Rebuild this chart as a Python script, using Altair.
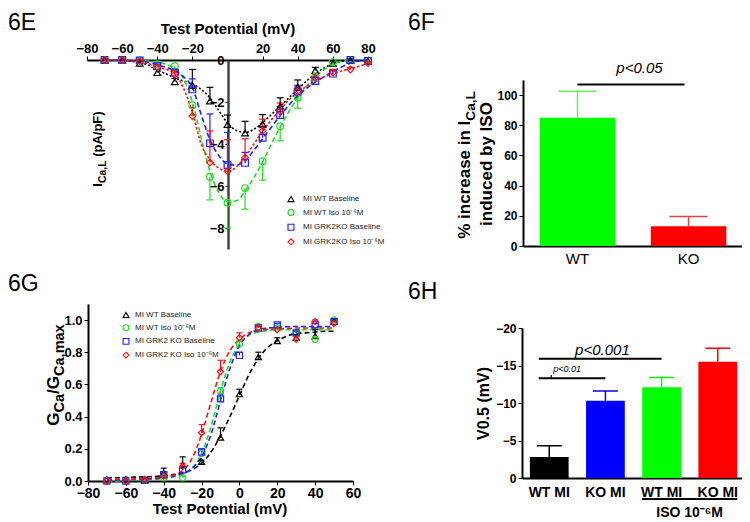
import altair as alt
import pandas as pd

FONT = "Liberation Sans"
W, H = 734, 514

# ---------------- Panel 6E : current-voltage relation ----------------
e_series = ["MI WT Baseline", "MI WT Iso 10⁻⁶M", "MI GRK2KO Baseline", "MI GRK2KO Iso 10⁻⁶M"]
e_colors = ["#000000", "#22dd22", "#2020ff", "#ff1010"]
e_shapes = ["triangle-up", "circle", "square", "diamond"]
e_dashes = [[2, 2], [5, 3], [5, 3], [2.5, 2]]
e_err_dir = [1, -1, 1, 1]

e_v = [-70, -60, -50, -40, -30, -20, -10, 0, 10, 20, 30, 40, 50, 60, 70, 80]
e_wt_base = [0, 0, -0.15, -0.6, -1.03, -1.2, -1.95, -3.07, -3.47, -3.05, -2.2, -1.3, -0.5, -0.15, 0, -0.05]
e_wt_iso = [0, 0, -0.02, -0.2, -0.3, -2.15, -5.56, -6.8, -6.1, -4.82, -3.15, -1.8, -0.8, -0.1, 0, -0.05]
e_ko_base = [0, 0, -0.02, -0.3, -0.6, -1.4, -3.97, -5.0, -4.9, -3.7, -2.62, -1.5, -1.0, -0.65, 0, -0.05]
e_ko_iso = [0, 0, -0.05, -0.35, -0.7, -2.67, -4.88, -5.3, -4.65, -3.37, -2.45, -1.5, -0.85, -0.6, -0.45, -0.15]

e_wt_base_err = [0, 0, 0.05, 0.15, 0.15, 0.75, 0.65, 0.45, 0.55, 0.45, 0.4, 0.35, 0.15, 0.1, 0.05, 0]
e_wt_iso_err = [0, 0, 0.02, 0.05, 0.1, 0.5, 1.1, 1.2, 1.0, 0.9, 0.7, 0.5, 0.2, 0.1, 0, 0]
e_ko_base_err = [0, 0, 0.05, 0.1, 0.15, 0.5, 1.4, 1.55, 0.5, 0.5, 0.4, 0.3, 0.2, 0.15, 0.05, 0]
e_ko_iso_err = [0, 0, 0.05, 0.1, 0.2, 0.4, 1.5, 1.5, 0.9, 0.55, 0.4, 0.25, 0.2, 0.15, 0.1, 0.05]

# fitted curves every 5 mV
e_fit_v = list(range(-70, 85, 5))
e_fit_wt_base = [0, 0, -0.02, -0.06, -0.12, -0.25, -0.48, -0.65, -0.85, -1.0, -1.15, -1.4, -1.8, -2.4,
                 -3.0, -3.35, -3.45, -3.3, -2.98, -2.6, -2.2, -1.8, -1.4, -1.0, -0.65, -0.38, -0.18,
                 -0.06, 0, None, None]
e_fit_wt_iso = [0, 0, 0, 0, -0.02, -0.05, -0.1, -0.2, -0.4, -0.9, -2.0, -3.7, -5.3, -6.3, -6.75,
                -6.7, -6.25, -5.6, -4.85, -4.0, -3.2, -2.45, -1.8, -1.25, -0.8, -0.45, -0.2, -0.06,
                0, None, None]
e_fit_ko_base = [0, 0, 0, -0.02, -0.05, -0.12, -0.22, -0.35, -0.5, -0.8, -1.3, -2.6, -3.8, -4.55,
                 -4.95, -5.0, -4.8, -4.3, -3.75, -3.2, -2.65, -2.15, -1.7, -1.35, -1.05, -0.8,
                 -0.55, -0.33, -0.15, -0.05, 0]
e_fit_ko_iso = [0, 0, 0, -0.03, -0.08, -0.18, -0.3, -0.45, -0.65, -1.35, -2.5, -4.0, -4.75, -5.15,
                -5.3, -5.1, -4.6, -4.0, -3.4, -2.85, -2.35, -1.9, -1.55, -1.25, -1.0, -0.8, -0.65,
                -0.52, -0.42, -0.3, -0.15]

# ---------------- Panel 6F : % increase ----------------
f_groups = ["WT", "KO"]
f_values = [85, 13]
f_err = [17.5, 6.5]
f_colors = ["#00ff00", "#ff0000"]
f_err_colors = ["#66ee66", "#dd4444"]

# ---------------- Panel 6G : activation curves ----------------
g_series = ["MI WT Baseline", "MI WT Iso 10⁻⁶M", "MI GRK2 KO Baseline", "MI GRK2 KO Iso 10⁻⁶M"]
g_colors = ["#000000", "#22dd22", "#2020ff", "#ff1010"]
g_v = [-70, -60, -50, -40, -30, -20, -10, 0, 10, 20, 30, 40, 50]
g_wt_base = [0.01, 0.01, 0.01, 0.05, 0.1, 0.12, 0.27, 0.54, 0.77, 0.87, 0.89, 0.9, 0.99]
g_wt_iso = [0, 0, 0.005, 0.02, 0.02, 0.17, 0.56, 0.85, 0.96, 0.95, 0.92, 0.88, 1.0]
g_ko_base = [0, 0, 0.005, 0.04, 0.07, 0.18, 0.51, 0.78, 0.95, 0.97, 0.92, 0.97, 0.99]
g_ko_iso = [0, 0, 0.01, 0.03, 0.09, 0.3, 0.68, 0.89, 0.95, 0.94, 0.88, 0.99, 0.98]
g_wt_base_err = [0, 0, 0.01, 0.03, 0.05, 0.01, 0.06, 0.03, 0.03, 0.02, 0.02, 0.04, 0.01]
g_wt_iso_err = [0, 0, 0, 0.01, 0.01, 0.02, 0.02, 0.02, 0.01, 0.01, 0.01, 0.01, 0.01]
g_ko_base_err = [0, 0, 0, 0.01, 0.02, 0.02, 0.03, 0.02, 0.01, 0.01, 0.01, 0.01, 0.01]
g_ko_iso_err = [0, 0, 0.01, 0.01, 0.02, 0.05, 0.07, 0.03, 0.01, 0.01, 0.02, 0.01, 0.01]

g_fit_v = list(range(-70, 55, 5))
g_fit_wt_base = [0.02, 0.02, 0.022, 0.024, 0.026, 0.028, 0.032, 0.04, 0.05, 0.07, 0.11, 0.18, 0.28,
                 0.4, 0.53, 0.66, 0.76, 0.83, 0.87, 0.9, 0.915, 0.92, 0.925, 0.93, 0.93]
g_fit_wt_iso = [0, 0, 0.003, 0.005, 0.007, 0.01, 0.015, 0.025, 0.04, 0.08, 0.17, 0.34, 0.56, 0.74,
                0.85, 0.905, 0.925, 0.935, 0.94, 0.94, 0.94, 0.94, 0.94, 0.94, 0.94]
g_fit_ko_base = [0.005, 0.006, 0.007, 0.009, 0.011, 0.015, 0.02, 0.03, 0.045, 0.08, 0.15, 0.29, 0.5,
                 0.7, 0.84, 0.91, 0.94, 0.95, 0.955, 0.958, 0.96, 0.96, 0.96, 0.96, 0.96]
g_fit_ko_iso = [0.01, 0.011, 0.012, 0.013, 0.015, 0.019, 0.025, 0.035, 0.065, 0.14, 0.29, 0.49, 0.68,
                0.81, 0.88, 0.92, 0.935, 0.942, 0.945, 0.947, 0.95, 0.95, 0.95, 0.95, 0.95]

# ---------------- Panel 6H : V0.5 ----------------
h_keys = ["WT MI|base", "KO MI|base", "WT MI|iso", "KO MI|iso"]
h_values = [-2.8, -10.3, -12.1, -15.5]
h_err = [1.5, 1.3, 1.3, 1.8]
h_colors = ["#000000", "#0000ff", "#00ff00", "#ff0000"]

# ---------------- helpers ----------------
BW = {' ': 278, '%': 889, '(': 333, ')': 333, ',': 278, '.': 278, '/': 278, '<': 584,
      'A': 722, 'C': 722, 'F': 611, 'G': 778, 'I': 278, 'L': 611, 'S': 667, 'O': 778, 'V': 667,
      'a': 556, 'b': 611, 'c': 556, 'd': 611, 'e': 556, 'i': 278, 'm': 889, 'n': 611, 'p': 611,
      'r': 389, 's': 556, 'u': 611, 'x': 556, 'y': 556}


def tw(t, size):
    return sum(BW.get(ch, 556) for ch in t) * size / 1000.0


def label(txt, x, y, size, weight="normal", style="normal", align="left", baseline="alphabetic", angle=0):
    return alt.Chart(pd.DataFrame({"t": [txt]})).mark_text(
        font=FONT, fontSize=size, fontWeight=weight, fontStyle=style, align=align,
        baseline=baseline, angle=angle, color="black"
    ).encode(text="t:N", x=alt.value(x), y=alt.value(y))


def rotated_title(segments, bx, cy):
    total = sum(tw(t, s) for t, s, _ in segments)
    y = cy + total / 2.0
    out = []
    for t, s, shift in segments:
        lead = len(t) - len(t.lstrip())
        out.append(label(t.strip(), bx + shift, y - tw(" " * lead, s), s, weight="bold", angle=270))
        y -= tw(t, s)
    return out


def axis(orient, offset, **kw):
    base = dict(orient=orient, offset=offset, title=None, grid=False, labelFont=FONT,
                labelColor="black", domainColor="black", tickColor="black", domainWidth=2,
                labelFontWeight="bold", labelFlush=False, labelOverlap=False)
    base.update(kw)
    return alt.Axis(**base)


def series_frames(series, xs, ys_list, errs_list, dirs, fit_x, fits):
    pts, fit_rows = [], []
    for s, ys, errs, d in zip(series, ys_list, errs_list, dirs):
        for v, y, er in zip(xs, ys, errs):
            pts.append({"s": s, "v": v, "i": y, "e": y + d * er, "has": er > 0})
    for s, f in zip(series, fits):
        for v, y in zip(fit_x, f):
            if y is not None:
                fit_rows.append({"s": s, "v": v, "i": y})
    return pd.DataFrame(pts), pd.DataFrame(fit_rows)


def series_panel(series, colors, shapes, dashes, df_pts, df_fit, xe, yscale, yaxis, legend, cap, size):
    def col(leg=None):
        return alt.Color("s:N", scale=alt.Scale(domain=series, range=colors), legend=leg)
    dferr = df_pts[df_pts["has"]]
    curves = alt.Chart(df_fit).mark_line(strokeWidth=1.6, interpolate="monotone").encode(
        x=xe, y=alt.Y("i:Q", scale=yscale, axis=yaxis), color=col(),
        strokeDash=alt.StrokeDash("s:N", scale=alt.Scale(domain=series, range=dashes), legend=None))
    bars = alt.Chart(dferr).mark_rule(strokeWidth=1.2).encode(
        x=xe, y=alt.Y("i:Q", scale=yscale, axis=yaxis), y2="e:Q", color=col())
    caps = alt.Chart(dferr).mark_rule(strokeWidth=1.2, xOffset=-cap, x2Offset=cap).encode(
        x=xe, x2="v:Q", y=alt.Y("e:Q", scale=yscale, axis=yaxis), color=col())
    points = alt.Chart(df_pts).mark_point(filled=False, size=size, strokeWidth=1.2, opacity=1).encode(
        x=xe, y=alt.Y("i:Q", scale=yscale, axis=yaxis),
        color=col(legend),
        shape=alt.Shape("s:N", scale=alt.Scale(domain=series, range=shapes), legend=legend))
    return alt.layer(curves, bars, caps, points).resolve_scale(
        color="independent", strokeDash="independent", shape="independent")


# ---------------- Panel E ----------------
dfe_pts, dfe_fit = series_frames(
    e_series, e_v, [e_wt_base, e_wt_iso, e_ko_base, e_ko_iso],
    [e_wt_base_err, e_wt_iso_err, e_ko_base_err, e_ko_iso_err], e_err_dir,
    e_fit_v, [e_fit_wt_base, e_fit_wt_iso, e_fit_ko_base, e_fit_ko_iso])
xe_E = alt.X("v:Q", scale=alt.Scale(domain=[-80, 80], range=[79, 360], nice=False, zero=False),
             axis=axis("top", -52, values=[-80, -60, -40, -20, 20, 40, 60, 80], labelFontSize=13,
                       tickSize=4, labelPadding=1))
ys_E = alt.Scale(domain=[-9, 0], range=[241, 52], nice=False, zero=False)
ya_E = axis("left", -220, values=[-8, -6, -4, -2, 0], labelFontSize=13, tickSize=3, labelPadding=1,
            domainWidth=2.5, domainColor="#444444")
leg_E = alt.Legend(orient="none", legendX=279, legendY=187, title=None, labelFont=FONT,
                   labelFontSize=8, labelColor="#222222", symbolSize=36, symbolStrokeWidth=1.1,
                   rowPadding=2.6, labelOffset=8, padding=0)
panel_E = series_panel(e_series, e_colors, e_shapes, e_dashes, dfe_pts, dfe_fit, xe_E, ys_E, ya_E,
                       leg_E, 3.5, 45)

# ---------------- Panel G ----------------
dfg_pts, dfg_fit = series_frames(
    g_series, g_v, [g_wt_base, g_wt_iso, g_ko_base, g_ko_iso],
    [g_wt_base_err, g_wt_iso_err, g_ko_base_err, g_ko_iso_err], [1, 1, 1, 1],
    g_fit_v, [g_fit_wt_base, g_fit_wt_iso, g_fit_ko_base, g_fit_ko_iso])
xe_G = alt.X("v:Q", scale=alt.Scale(domain=[-80, 60], range=[80, 345], nice=False, zero=False),
             axis=axis("bottom", 473 - H, values=list(range(-80, 61, 20)), labelFontSize=14,
                       tickSize=4, labelPadding=1))
ys_G = alt.Scale(domain=[0, 1.1], range=[473, 295.9], nice=False, zero=False)
ya_G = axis("left", -80, values=[0, 0.2, 0.4, 0.6, 0.8, 1.0], format=".1f", labelFontSize=13,
            tickSize=4, labelPadding=2)
leg_G = alt.Legend(orient="none", legendX=114, legendY=303, title=None, labelFont=FONT,
                   labelFontSize=8, labelColor="#222222", symbolSize=34, symbolStrokeWidth=1.1,
                   rowPadding=1.7, labelOffset=5, padding=0)
panel_G = series_panel(g_series, g_colors, e_shapes, [[5, 3]] * 4, dfg_pts, dfg_fit, xe_G, ys_G, ya_G,
                       leg_G, 3, 38)

# ---------------- Panel F ----------------
dff = pd.DataFrame({"g": f_groups, "val": f_values,
                    "top": [v + e for v, e in zip(f_values, f_err)]})
xs_F = alt.Scale(domain=f_groups, range=[515, 735], paddingInner=0.32, paddingOuter=0.15)
xa_F = axis("bottom", 238 - H, labelFontSize=15, labelFontWeight="normal", tickSize=0,
            labelPadding=5, labelAngle=0)
ys_F = alt.Scale(domain=[0, 110], range=[238, 71.9], nice=False, zero=False)
ya_F = axis("left", -515, values=[0, 20, 40, 60, 80, 100], labelFontSize=12, tickSize=4, labelPadding=2)
xF = alt.X("g:N", scale=xs_F, axis=xa_F)
f_bars = alt.Chart(dff).mark_bar().encode(
    x=xF, y=alt.Y("val:Q", scale=ys_F, axis=ya_F),
    color=alt.Color("g:N", scale=alt.Scale(domain=f_groups, range=f_colors), legend=None))
ecF = alt.Color("g:N", scale=alt.Scale(domain=f_groups, range=f_err_colors), legend=None)
f_err_l = alt.Chart(dff).mark_rule(strokeWidth=1.5).encode(
    x=xF, y=alt.Y("val:Q", scale=ys_F, axis=ya_F), y2="top:Q", color=ecF)
f_caps = alt.Chart(dff).mark_rule(strokeWidth=1.5, xOffset=-19, x2Offset=19).encode(
    x=xF, x2="g:N", y=alt.Y("top:Q", scale=ys_F, axis=ya_F), color=ecF)
f_sig = alt.Chart(pd.DataFrame({"a": ["WT"], "b": ["KO"], "y": [107]})).mark_rule(
    strokeWidth=2, color="black", x2Offset=-4).encode(
    x=alt.X("a:N", scale=xs_F, axis=xa_F), x2="b:N", y=alt.Y("y:Q", scale=ys_F, axis=ya_F))
f_ptxt = alt.Chart(pd.DataFrame({"a": ["WT"], "y": [117.9], "t": ["p<0.05"]})).mark_text(
    font=FONT, fontSize=15, fontStyle="italic", xOffset=62, baseline="middle", color="black").encode(
    x=alt.X("a:N", scale=xs_F, axis=xa_F), y=alt.Y("y:Q", scale=ys_F, axis=ya_F), text="t:N")
panel_F = alt.layer(f_bars, f_err_l, f_caps, f_sig, f_ptxt).resolve_scale(color="independent")

# ---------------- Panel H ----------------
dfh = pd.DataFrame({"g": h_keys, "val": h_values,
                    "top": [v - e for v, e in zip(h_values, h_err)]})
xs_H = alt.Scale(domain=h_keys, range=[514, 737], paddingInner=0.31, paddingOuter=0.14)
xa_H = axis("bottom", 470 - H, labelFontSize=14, tickSize=0, labelPadding=7, labelAngle=0,
            labelExpr="split(datum.label, '|')[0]")
ys_H = alt.Scale(domain=[-20, 0], range=[320, 470], nice=False, zero=False)
ya_H = axis("left", -514, values=[-20, -15, -10, -5, 0], labelFontSize=12, tickSize=4, labelPadding=2)
xH = alt.X("g:N", scale=xs_H, axis=xa_H)
cH = alt.Color("g:N", scale=alt.Scale(domain=h_keys, range=h_colors), legend=None)
h_bars = alt.Chart(dfh).mark_bar().encode(x=xH, y=alt.Y("val:Q", scale=ys_H, axis=ya_H), color=cH)
h_err_l = alt.Chart(dfh).mark_rule(strokeWidth=1.5).encode(
    x=xH, y=alt.Y("val:Q", scale=ys_H, axis=ya_H), y2="top:Q", color=cH)
h_caps = alt.Chart(dfh).mark_rule(strokeWidth=1.5, xOffset=-12.5, x2Offset=12.5).encode(
    x=xH, x2="g:N", y=alt.Y("top:Q", scale=ys_H, axis=ya_H), color=cH)
h_sig = alt.Chart(pd.DataFrame({"a": ["WT MI|base", "WT MI|base"], "b": ["WT MI|iso", "KO MI|base"],
                                "y": [-15.9, -13.3]})).mark_rule(
    strokeWidth=2, color="black", xOffset=-10.5).encode(
    x=alt.X("a:N", scale=xs_H, axis=xa_H), x2="b:N", y=alt.Y("y:Q", scale=ys_H, axis=ya_H))
h_tick = alt.Chart(pd.DataFrame({"a": ["WT MI|base"], "y": [-13.3], "y2": [-13.75]})).mark_rule(
    strokeWidth=1.2, color="black", xOffset=2).encode(
    x=alt.X("a:N", scale=xs_H, axis=xa_H), y=alt.Y("y:Q", scale=ys_H, axis=ya_H), y2="y2:Q")
h_p1 = alt.Chart(pd.DataFrame({"a": ["KO MI|base"], "y": [-17.1], "t": ["p<0.001"]})).mark_text(
    font=FONT, fontSize=15, fontStyle="italic", xOffset=-3, baseline="middle", color="black").encode(
    x=alt.X("a:N", scale=xs_H, axis=xa_H), y=alt.Y("y:Q", scale=ys_H, axis=ya_H), text="t:N")
h_p2 = alt.Chart(pd.DataFrame({"a": ["WT MI|base"], "y": [-14.5], "t": ["p<0.01"]})).mark_text(
    font=FONT, fontSize=9, fontStyle="italic", xOffset=4, align="left", baseline="middle",
    color="black").encode(
    x=alt.X("a:N", scale=xs_H, axis=xa_H), y=alt.Y("y:Q", scale=ys_H, axis=ya_H), text="t:N")
h_iso = alt.Chart(pd.DataFrame({"a": ["WT MI|iso"], "b": ["KO MI|iso"], "y": [2.8]})).mark_rule(
    strokeWidth=2, color="black", xOffset=-19.5, x2Offset=19.5).encode(
    x=alt.X("a:N", scale=xs_H, axis=xa_H), x2="b:N", y=alt.Y("y:Q", scale=ys_H, axis=ya_H))
h_isotxt = alt.Chart(pd.DataFrame({"a": ["WT MI|iso"], "y": [5.2], "t": ["ISO 10⁻⁶M"]})).mark_text(
    font=FONT, fontSize=14, fontWeight="bold", xOffset=28, baseline="alphabetic", color="black").encode(
    x=alt.X("a:N", scale=xs_H, axis=xa_H), y=alt.Y("y:Q", scale=ys_H, axis=ya_H), text="t:N")
panel_H = alt.layer(h_bars, h_err_l, h_caps, h_sig, h_tick, h_p1, h_p2, h_iso, h_isotxt)

# ---------------- titles / annotations ----------------
notes = [
    label("6E", 0, 22, 23),
    label("6F", 400, 22, 23),
    label("6G", 0, 283, 23),
    label("6H", 400, 291, 23),
    label("Test Potential (mV)", 220, 21, 15, weight="bold", align="center", baseline="middle"),
    label("Test Potential (mV)", 212, 506, 15, weight="bold", align="center"),
    label("induced by ISO", 484, 156, 17, weight="bold", align="center", angle=270),
    label("V0.5 (mV)", 481, 395.5, 16, weight="bold", align="center", angle=270),
]
notes += rotated_title([("I", 13, 0), ("Ca,L", 10.4, 3.5), (" (pA/pF)", 13, 0)], 94, 141)
notes += rotated_title([("% increase in I", 17, 0), ("Ca,L", 13.6, 4.5)], 462, 157)
notes += rotated_title([("G", 17, 0), ("Ca", 14.5, 4.5), ("/G", 17, 0), ("Ca,max", 14.5, 4.5)], 51, 367)

chart = alt.layer(panel_E, panel_F, panel_G, panel_H, *notes).resolve_scale(
    x="independent", y="independent", color="independent", shape="independent",
    strokeDash="independent"
).properties(
    width=W, height=H, autosize=alt.AutoSizeParams(type="none"), padding=0
).configure_view(stroke=None).configure_axis(grid=False)

chart.save("out.html", embed_options={"renderer": "svg", "actions": False})
